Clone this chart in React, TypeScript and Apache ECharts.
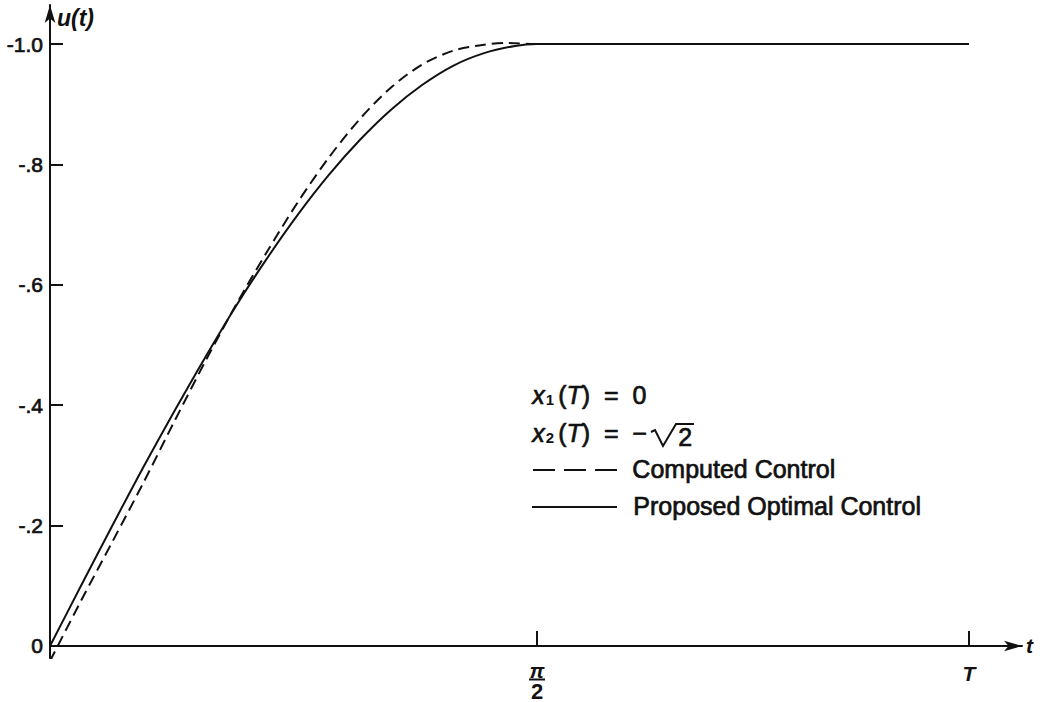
import React, { useEffect, useRef } from "react";
import * as echarts from "echarts";

// Time values (t), pi/2 = 1.5708, T ≈ 2.964
const solidT = [0, 0.1, 0.2, 0.3, 0.4, 0.5, 0.6, 0.7, 0.8, 0.9, 1.0, 1.1, 1.2, 1.3, 1.4, 1.5, 1.5708, 2.964];
const solidU = [0, 0.1, 0.199, 0.296, 0.389, 0.479, 0.565, 0.644, 0.717, 0.783, 0.841, 0.891, 0.932, 0.964, 0.985, 0.997, 1.0, 1.0];

const dashedT = [0, 0.1, 0.2, 0.3, 0.4, 0.5, 0.6, 0.7, 0.8, 0.9, 1.0, 1.1, 1.2, 1.3, 1.4, 1.48, 1.56, 2.964];
const dashedU = [-0.025, 0.075, 0.172, 0.27, 0.372, 0.472, 0.567, 0.655, 0.738, 0.812, 0.876, 0.928, 0.966, 0.989, 0.999, 1.002, 1.0, 1.0];

const yTicks = [0, 0.2, 0.4, 0.6, 0.8, 1.0];
const yTickLabels = ["0", "-.2", "-.4", "-.6", "-.8", "-1.0"];
const xTicks = [1.5708, 2.964];
const xTickLabels = ["{p|π}\n{b| }\n{q|2}", "{t|T}"];

const seriesNames = ["Computed Control", "Proposed Optimal Control"];

const FONT = "'Liberation Sans', Arial, Helvetica, sans-serif";
const INK = "#111";
const HEAVY = { stroke: INK, lineWidth: 0.7 };

const eqRich = {
  x: { fontSize: 25, fontStyle: "italic", fill: INK, fontFamily: FONT, lineHeight: 30, verticalAlign: "bottom", ...HEAVY },
  n: { fontSize: 25, fill: INK, fontFamily: FONT, lineHeight: 30, verticalAlign: "bottom", ...HEAVY },
  s: { fontSize: 15, fontWeight: "bold", fill: INK, fontFamily: FONT, lineHeight: 26, verticalAlign: "bottom", padding: [0, 4, 0, 1] },
};

export default function App() {
  const ref = useRef<HTMLDivElement>(null);
  useEffect(() => {
    if (!ref.current) return;
    const chart = echarts.init(ref.current, undefined, { renderer: "svg" });
    chart.setOption({
      animation: false,
      backgroundColor: "#fff",
      textStyle: { fontFamily: FONT, color: INK },
      grid: { left: 50, right: 21, top: 5, bottom: 34, containLabel: false },
      xAxis: {
        type: "value",
        min: 0,
        max: 3.135,
        splitLine: { show: false },
        axisLine: {
          onZero: true,
          symbol: ["none", "arrow"],
          symbolSize: [8, 18],
          lineStyle: { color: INK, width: 2 },
        },
        axisTick: {
          show: true,
          inside: true,
          length: 15,
          customValues: xTicks,
          lineStyle: { color: INK, width: 2 },
        },
        axisLabel: {
          show: true,
          customValues: xTicks,
          margin: 5,
          formatter: (v: number) => {
            const i = xTicks.findIndex((x) => Math.abs(x - v) < 1e-6);
            return i >= 0 ? xTickLabels[i] : "";
          },
          rich: {
            p: { fontSize: 21, fontStyle: "italic", fontWeight: "bold", fontFamily: FONT, color: INK, lineHeight: 14 },
            b: { width: 16, height: 2, backgroundColor: INK, lineHeight: 5, fontSize: 2 },
            q: { fontSize: 22, fontWeight: "bold", fontFamily: FONT, color: INK, lineHeight: 20, verticalAlign: "bottom" },
            t: { fontSize: 21, fontStyle: "italic", fontWeight: "bold", fontFamily: FONT, color: INK, lineHeight: 20 },
          },
        },
        name: "t",
        nameLocation: "end",
        nameGap: 4,
        nameTextStyle: { fontSize: 21, fontStyle: "italic", fontWeight: "bold", color: INK, fontFamily: FONT, verticalAlign: "middle", align: "left" },
      },
      yAxis: {
        type: "value",
        min: -0.02,
        max: 1.065,
        splitLine: { show: false },
        axisLine: {
          show: true,
          onZero: true,
          symbol: ["none", "arrow"],
          symbolSize: [8, 18],
          lineStyle: { color: INK, width: 2 },
        },
        axisTick: {
          show: true,
          inside: true,
          length: 13,
          customValues: yTicks,
          lineStyle: { color: INK, width: 2 },
        },
        axisLabel: {
          show: true,
          customValues: yTicks,
          margin: 7,
          fontSize: 21,
          color: INK,
          fontFamily: FONT,
          textBorderColor: INK,
          textBorderWidth: 0.7,
          formatter: (v: number) => {
            const i = yTicks.findIndex((y) => Math.abs(y - v) < 1e-6);
            return i >= 0 ? yTickLabels[i] : "";
          },
        },
      },
      graphic: [
        {
          id: "ulabel",
          type: "text",
          left: 57,
          top: 6,
          style: { text: "u(t)", fontSize: 23, fontStyle: "italic", fontWeight: "bold", fill: INK, fontFamily: FONT },
        },
        {
          id: "eq1",
          type: "text",
          left: 532,
          top: 382,
          style: { text: "{x|x}{s|1}{n|(}{x|T}{n|)  =  0}", rich: eqRich },
        },
        {
          id: "eq2",
          type: "text",
          left: 532,
          top: 420,
          style: { text: "{x|x}{s|2}{n|(}{x|T}{n|)  =  −}", rich: eqRich },
        },
        {
          id: "radical",
          type: "polyline",
          shape: { points: [[651, 432], [655, 430], [663, 446], [676, 424], [694, 424]] },
          style: { stroke: INK, lineWidth: 2, fill: "none" },
        },
        {
          id: "two",
          type: "text",
          left: 678,
          top: 424,
          style: { text: "2", fontSize: 25, fill: INK, fontFamily: FONT, ...HEAVY },
        },
        {
          id: "legDash",
          type: "line",
          shape: { x1: 533, y1: 470, x2: 617, y2: 470 },
          style: { stroke: INK, lineWidth: 2, lineDash: [22, 9] },
        },
        {
          id: "legDashText",
          type: "text",
          left: 632,
          top: 456,
          style: { text: seriesNames[0], fontSize: 25, fill: INK, fontFamily: FONT, ...HEAVY },
        },
        {
          id: "legSolid",
          type: "line",
          shape: { x1: 532, y1: 507, x2: 617, y2: 507 },
          style: { stroke: INK, lineWidth: 2 },
        },
        {
          id: "legSolidText",
          type: "text",
          left: 633,
          top: 493,
          style: { text: seriesNames[1], fontSize: 25, fill: INK, fontFamily: FONT, ...HEAVY },
        },
      ],
      series: [
        {
          name: seriesNames[0],
          type: "line",
          data: dashedT.map((t, i) => [t, dashedU[i]]),
          smooth: 0.3,
          showSymbol: false,
          symbol: "none",
          lineStyle: { color: INK, width: 2, type: [11, 6] },
          itemStyle: { color: INK },
          z: 3,
        },
        {
          name: seriesNames[1],
          type: "line",
          data: solidT.map((t, i) => [t, solidU[i]]),
          smooth: 0.3,
          showSymbol: false,
          symbol: "none",
          lineStyle: { color: INK, width: 2 },
          itemStyle: { color: INK },
          z: 3,
        },
      ],
    });
    return () => chart.dispose();
  }, []);
  return (
    <div
      ref={ref}
      style={{ position: "absolute", left: 0, top: 0, width: 1043, height: 702, background: "#fff" }}
    />
  );
}
